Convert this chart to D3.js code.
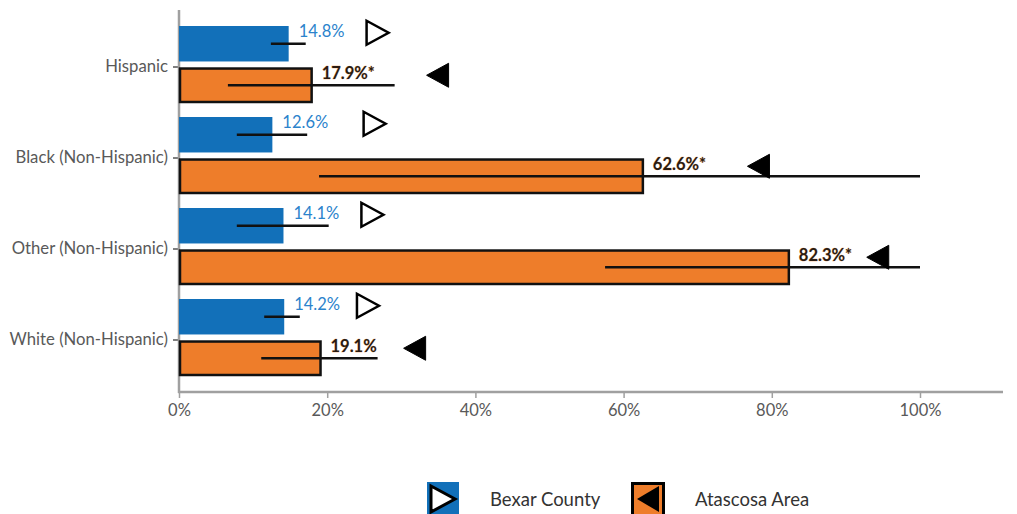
<!DOCTYPE html>
<html>
<head>
<meta charset="utf-8">
<script src="https://cdn.jsdelivr.net/npm/d3@7/dist/d3.min.js"></script>
<style>
  html, body { margin: 0; padding: 0; background: #fff; }
  svg { display: block; font-family: Lato, "Open Sans", sans-serif; }
</style>
</head>
<body>
<svg id="chart" width="1017" height="514"></svg>
<script>
// ---- data ----
const categories = ["Hispanic", "Black (Non-Hispanic)", "Other (Non-Hispanic)", "White (Non-Hispanic)"];
const seriesNames = ["Bexar County", "Atascosa Area"];
const bexarValues = [14.8, 12.6, 14.1, 14.2];
const bexarLow = [12.4, 7.8, 7.8, 11.5];
const bexarHigh = [17.1, 17.3, 20.2, 16.3];
const bexarLabels = ["14.8%", "12.6%", "14.1%", "14.2%"];
const bexarMarker = [26.8, 26.4, 26.1, 25.5];
const atascosaValues = [17.9, 62.6, 82.3, 19.1];
const atascosaLow = [6.6, 18.9, 57.5, 11.1];
const atascosaHigh = [29.1, 100, 100, 26.8];
const atascosaLabels = ["17.9%*", "62.6%*", "82.3%*", "19.1%"];
const atascosaMarker = [34.9, 78.2, 94.3, 31.8];
const xTickValues = [0, 20, 40, 60, 80, 100];
const xTickLabels = ["0%", "20%", "40%", "60%", "80%", "100%"];

// ---- drawing ----
const svg = d3.select("#chart");
const BLUE = "#1270b9", ORANGE = "#ee7d2a", AXIS = "#a0a0a0", TXT = "#595959";

const x = d3.scaleLinear().domain([0, 100]).range([179, 920]);
const y = d3.scaleBand().domain(categories).range([21.5, 385.5]).padding(0);
const sub = d3.scaleBand().domain(seriesNames).range([-41, 36]).paddingInner(0.146).paddingOuter(0);

const rows = categories.map((c, i) => ({
  cat: c,
  s: [
    { name: seriesNames[0], v: bexarValues[i], lo: bexarLow[i], hi: bexarHigh[i], lab: bexarLabels[i], m: bexarMarker[i] },
    { name: seriesNames[1], v: atascosaValues[i], lo: atascosaLow[i], hi: atascosaHigh[i], lab: atascosaLabels[i], m: atascosaMarker[i] }
  ]
}));

// axes
const xAxis = svg.append("g").attr("transform", "translate(0,392)")
  .call(d3.axisBottom(x).tickValues(xTickValues).tickFormat((d, i) => xTickLabels[i]).tickSize(6).tickSizeOuter(0));
xAxis.select(".domain").remove();
xAxis.selectAll(".tick line").attr("stroke", AXIS).attr("stroke-width", 1.5);
xAxis.selectAll(".tick text").attr("fill", TXT).attr("font-size", 16.5).attr("font-family", "Lato").attr("dy", "0.9em");
svg.append("line").attr("x1", x(0) - 1).attr("x2", 1003).attr("y1", 392).attr("y2", 392)
  .attr("stroke", AXIS).attr("stroke-width", 2.5);

const yAxis = svg.append("g").attr("transform", "translate(179,0)")
  .call(d3.axisLeft(y).tickSize(6).tickSizeOuter(0));
yAxis.select(".domain").remove();
yAxis.selectAll(".tick line").attr("stroke", "#555").attr("stroke-width", 1.5);
yAxis.selectAll(".tick text").attr("fill", TXT).attr("font-size", 16.7).attr("font-family", "Lato").attr("x", -11);
svg.append("line").attr("x1", 179).attr("x2", 179).attr("y1", 10).attr("y2", 393)
  .attr("stroke", AXIS).attr("stroke-width", 2.5);

const g = svg.selectAll("g.row").data(rows).join("g").attr("class", "row")
  .attr("transform", d => `translate(0,${y(d.cat) + y.bandwidth() / 2})`);

// bars
g.each(function (d) {
  const row = d3.select(this);
  d.s.forEach((s, j) => {
    const top = sub(s.name), h = sub.bandwidth(), cy = top + h / 2;
    if (j === 0) {
      row.append("rect").attr("x", x(0)).attr("y", top).attr("width", x(s.v) - x(0)).attr("height", h).attr("fill", BLUE);
    } else {
      row.append("rect").attr("x", x(0) + 1).attr("y", top + 1).attr("width", x(s.v) - x(0) - 1).attr("height", h - 2)
        .attr("fill", ORANGE).attr("stroke", "#111").attr("stroke-width", 2.5);
    }
    // error bar
    row.append("line").attr("x1", x(s.lo)).attr("x2", x(s.hi)).attr("y1", cy).attr("y2", cy)
      .attr("stroke", "#111").attr("stroke-width", 2.5);
    // label
    const t = row.append("text").attr("x", x(s.v) + 10).text(s.lab).attr("font-family", "Lato");
    if (j === 0) {
      t.attr("y", top + 11).attr("fill", "#2b83cc").attr("font-size", 16.5);
    } else {
      t.attr("y", top + 11).attr("fill", "#2a1b10").attr("font-size", 16.5).attr("font-weight", 700)
        .attr("stroke", "#f3a060").attr("stroke-width", 0.4).attr("paint-order", "stroke");
    }
    // marker
    const mx = x(s.m);
    const my = j === 0 ? cy - 11 : cy - 10;
    const w = 11, hh = 12;
    const path = j === 0
      ? `M${mx - w},${my - hh}L${mx + w},${my}L${mx - w},${my + hh}Z`
      : `M${mx + w},${my - hh}L${mx - w},${my}L${mx + w},${my + hh}Z`;
    row.append("path").attr("d", path)
      .attr("fill", j === 0 ? "#fff" : "#000").attr("stroke", "#000").attr("stroke-width", j === 0 ? 2.5 : 1)
      .attr("stroke-linejoin", "miter");
  });
});

// legend
const leg = svg.append("g");
const legItems = [
  { name: seriesNames[0], fill: BLUE, sx: 427, tx: 490, hollow: true },
  { name: seriesNames[1], fill: ORANGE, sx: 631, tx: 695, hollow: false }
];
legItems.forEach(it => {
  if (it.hollow) {
    leg.append("rect").attr("x", it.sx).attr("y", 482).attr("width", 32).attr("height", 34).attr("fill", it.fill);
    leg.append("path").attr("d", `M${it.sx + 4},${486}L${it.sx + 28},${499}L${it.sx + 4},${512}Z`)
      .attr("fill", "#fff").attr("stroke", "#000").attr("stroke-width", 3);
  } else {
    leg.append("rect").attr("x", it.sx + 1.5).attr("y", 483.5).attr("width", 31).attr("height", 34).attr("fill", it.fill)
      .attr("stroke", "#000").attr("stroke-width", 3);
    leg.append("path").attr("d", `M${it.sx + 28},${486}L${it.sx + 6},${499}L${it.sx + 28},${512}Z`)
      .attr("fill", "#000");
  }
  leg.append("text").attr("x", it.tx).attr("y", 506).text(it.name)
    .attr("fill", "#333").attr("font-size", 18.5).attr("font-family", "Lato");
});
</script>
</body>
</html>
